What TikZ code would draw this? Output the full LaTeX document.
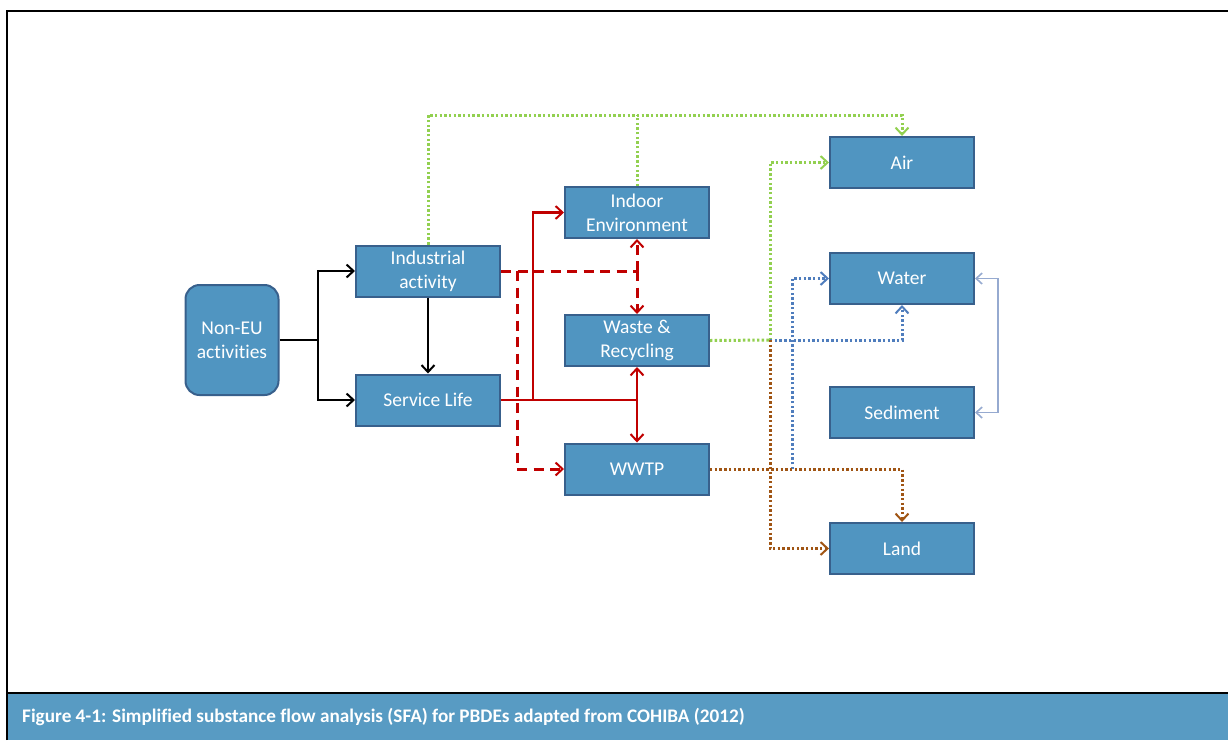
\documentclass[tikz,border=0pt]{standalone}
\usepackage{fontspec}
\setmainfont{Carlito}[Ligatures=NoCommon]
\usetikzlibrary{arrows.meta}

\definecolor{boxfill}{RGB}{80,149,193}
\definecolor{boxline}{RGB}{56,96,140}
\definecolor{capfill}{RGB}{88,155,195}
\definecolor{flowred}{RGB}{192,0,0}
\definecolor{flowgreen}{RGB}{146,208,80}
\definecolor{flowblue}{RGB}{79,125,189}
\definecolor{flowbrown}{RGB}{160,85,20}
\definecolor{flowpale}{RGB}{150,170,208}

\tikzset{
  compartment/.style={draw=boxline, fill=boxfill, line width=2pt,
    minimum width=144pt, minimum height=51pt, text=white, align=center,
    inner sep=0pt, font=\fontsize{19.5}{24}\selectfont},
  source/.style={compartment, rounded corners=14pt,
    minimum width=93pt, minimum height=110pt},
  tip/.style={-{Straight Barb[length=7pt,width=13pt,line width=2pt]}},
  blackflow/.style={draw=black, line width=2.6pt},
  redflow/.style={draw=flowred, line width=2.8pt},
  reddash/.style={draw=flowred, line width=3pt, dash pattern=on 10pt off 6.5pt},
  dotflow/.style={line width=3pt, dash pattern=on 2.4pt off 2.3pt},
  greenflow/.style={dotflow, draw=flowgreen},
  blueflow/.style={dotflow, draw=flowblue},
  brownflow/.style={dotflow, draw=flowbrown},
  paleflow/.style={draw=flowpale, line width=1.6pt},
}

\begin{document}
\begin{tikzpicture}[x=1pt, y=-1pt]
\useasboundingbox (0,0) rectangle (1228,740);

% frame and caption band
\fill[capfill] (8,693) rectangle (1228,740);
\draw[line width=2.4pt] (7,740) -- (7,11) -- (1228,11);
\draw[line width=2.4pt] (7,693) -- (1228,693);
\node[anchor=west, text=white, font=\bfseries\fontsize{19.2}{22}\selectfont,
  inner sep=0pt] (caption) at (22,717)
  {Figure 4-1: Simplified substance flow analysis (SFA) for PBDEs adapted from COHIBA (2012)};

% compartments
\node[source] (noneu) at (232,340) {Non-EU\\activities};
\node[compartment] (ind) at (428,271) {Industrial\\activity};
\node[compartment] (svc) at (428,400) {Service Life};
\node[compartment] (indoor) at (637,212.5) {Indoor\\Environment};
\node[compartment] (waste) at (637,340.5) {Waste \&\\Recycling};
\node[compartment] (wwtp) at (637,469) {WWTP};
\node[compartment] (air) at (902,162.5) {Air};
\node[compartment] (water) at (902,278.5) {Water};
\node[compartment] (sed) at (902,412.5) {Sediment};
\node[compartment] (land) at (902,548.5) {Land};

% junction points
\coordinate (jsrc) at (318,340);
\coordinate (jred) at (533,400);
\coordinate (jmid) at (637,400);
\coordinate (jdash) at (637,271);
\coordinate (jdash2) at (517,271);
\coordinate (jtop) at (428,115);
\coordinate (jwaste) at (770,340);
\coordinate (jwwtp) at (792,469);

% primary flows
\draw[blackflow] (noneu.east) -- (jsrc);
\draw[blackflow, tip] (jsrc) |- (ind.west);
\draw[blackflow, tip] (jsrc) |- (svc.west);
\draw[blackflow, tip] (ind.south) -- (svc.north);

% service life flows
\draw[redflow] (svc.east) -- (jmid);
\draw[redflow, tip] (jred) |- (indoor.west);
\draw[redflow, tip] (jmid) -- (waste.south);
\draw[redflow, tip] (jmid) -- (wwtp.north);

% industrial emissions
\draw[reddash] (ind.east) -- (jdash);
\draw[reddash, tip] (jdash) -- (indoor.south);
\draw[reddash, tip] (jdash) -- (waste.north);
\draw[reddash, tip] (jdash2) |- (wwtp.west);

% releases to air
\draw[greenflow, tip] (ind.north) -- (jtop) -| (air.north);
\draw[greenflow] (indoor.north) -- (indoor.north |- jtop);
\draw[greenflow] (waste.east) -- (jwaste);
\draw[greenflow, tip] (jwaste) |- (air.west);

% releases to water
\draw[blueflow, tip] (jwaste) -| (water.south);
\draw[blueflow, tip] (jwwtp) |- (water.west);

% releases to land
\draw[brownflow, tip] (wwtp.east) -| (land.north);
\draw[brownflow, tip] (jwaste) |- (land.west);

% water / sediment exchange
\draw[paleflow, {Straight Barb[length=6pt,width=11pt]}-{Straight Barb[length=6pt,width=11pt]}]
  (water.east) -- ++(23,0) |- (sed.east);
\end{tikzpicture}
\end{document}
